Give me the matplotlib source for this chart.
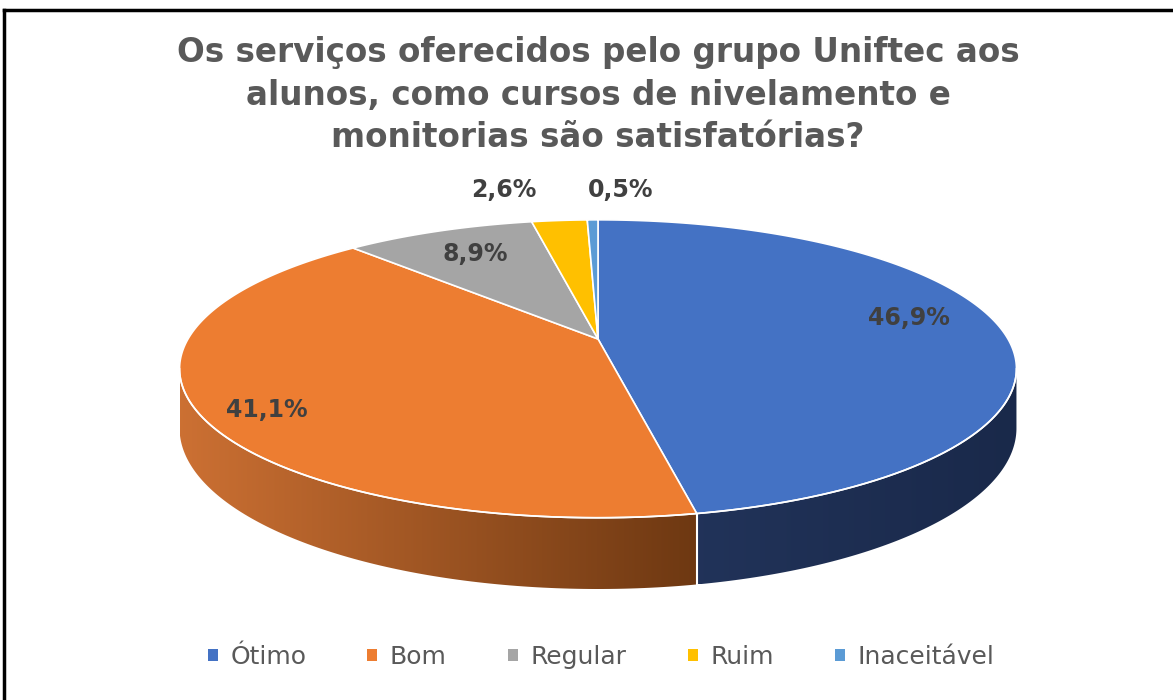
import numpy as np
import matplotlib
matplotlib.use("Agg")
import matplotlib.pyplot as plt
from matplotlib.patches import Polygon, Patch
from matplotlib.lines import Line2D

plt.rcParams["font.family"] = ["DejaVu Sans"]

categories = ["Ótimo", "Bom", "Regular", "Ruim", "Inaceitável"]
values = [46.9, 41.1, 8.9, 2.6, 0.5]
value_labels = ["46,9%", "41,1%", "8,9%", "2,6%", "0,5%"]
colors = ["#4472C4", "#ED7D31", "#A5A5A5", "#FFC000", "#5B9BD5"]
title = ("Os serviços oferecidos pelo grupo Uniftec aos\n"
         "alunos, como cursos de nivelamento e\n"
         "monitorias são satisfatórias?")

# side (wall) gradients, left -> right
side_shades = {
    0: ((0.13, 0.20, 0.35), (0.10, 0.16, 0.29)),
    1: ((0.80, 0.44, 0.20), (0.43, 0.22, 0.07)),
}

W, H = 1173, 700
cx, cy = 598, 339         # projected centre
A, B, D = 410, 143, 57    # half width, half depth, wall height
p = 0.2                   # perspective strength
label_pos = [(909, 318), (267, 410), (475, 254), (504, 190), (621, 190)]


def proj(theta_deg, down=0.0):
    t = np.radians(theta_deg)
    X = np.cos(t)
    Z = -np.sin(t)
    w = 1 - p * Z
    return cx + A * X / w, cy + (B * Z + D * down) / w


fig = plt.figure(figsize=(W / 100, H / 100), dpi=100)
ax = fig.add_axes([0, 0, 1, 1])
ax.set_xlim(0, W)
ax.set_ylim(H, 0)
ax.axis("off")

# slice angles (clockwise from top)
fracs = np.array(values) / sum(values)
starts = 90 - 360 * np.concatenate([[0], np.cumsum(fracs)[:-1]])
ends = starts - 360 * fracs

# visible side walls
sil = np.degrees(np.arcsin(p))
vis_lo, vis_hi = -180 + sil, -sil
for i in range(len(values)):
    lo = max(ends[i], vis_lo)
    hi = min(starts[i], vis_hi)
    if lo >= hi:
        continue
    th = np.linspace(lo, hi, 120)
    tx, ty = proj(th)
    bx, by = proj(th[::-1], 1.0)
    pts = np.column_stack([np.r_[tx, bx], np.r_[ty, by]])
    poly = Polygon(pts, closed=True, facecolor="none", edgecolor="none")
    ax.add_patch(poly)
    c0, c1 = side_shades.get(i, ((0.5, 0.5, 0.5), (0.3, 0.3, 0.3)))
    grad = np.linspace(0, 1, 256)[None, :, None]
    img = np.array(c0)[None, None, :] * (1 - grad) + np.array(c1)[None, None, :] * grad
    im = ax.imshow(img, extent=(pts[:, 0].min(), pts[:, 0].max(),
                                pts[:, 1].max(), pts[:, 1].min()),
                   aspect="auto", zorder=1, interpolation="bilinear")
    im.set_clip_path(poly)

# white edge of the wall at the blue/orange boundary
bx0, by0 = proj(ends[0])
bx1, by1 = proj(ends[0], 1.0)
ax.plot([bx0, bx1], [by0, by1], color="white", lw=1.5, zorder=2)

# top face
for i in range(len(values)):
    th = np.linspace(starts[i], ends[i], 200)
    x, y = proj(th)
    pts = np.column_stack([np.r_[cx, x], np.r_[cy, y]])
    ax.add_patch(Polygon(pts, closed=True, facecolor=colors[i],
                         edgecolor="white", lw=1.2, zorder=3))

# rim highlight along the front
th = np.linspace(vis_lo, vis_hi, 300)
x, y = proj(th)
ax.plot(x, y, color="white", lw=1.2, zorder=4)

ax.set_xlim(0, W)
ax.set_ylim(H, 0)

for (lx, ly), txt in zip(label_pos, value_labels):
    ax.text(lx, ly, txt, ha="center", va="center", fontsize=17,
            fontweight="bold", color="#404040", zorder=5)

ax.text(598, 95, title, ha="center", va="center", fontsize=23.5,
        fontweight="bold", color="#595959", linespacing=1.38)

handles = [Patch(facecolor=c, edgecolor="none") for c in colors]
ax.legend(handles, categories, loc="center", bbox_to_anchor=(601 / W, 1 - 657 / H),
          bbox_transform=fig.transFigure, ncol=5, frameon=False, fontsize=18,
          labelcolor="#595959", handlelength=0.4, handleheight=0.4,
          handletextpad=0.5, columnspacing=2.45)

# outer frame (top and left)
fig.add_artist(Line2D([4 / W, 1], [1 - 10 / H, 1 - 10 / H], color="black", lw=2.5))
fig.add_artist(Line2D([4 / W, 4 / W], [0, 1 - 10 / H], color="black", lw=2.5))

fig.savefig("out.png", dpi=100)
